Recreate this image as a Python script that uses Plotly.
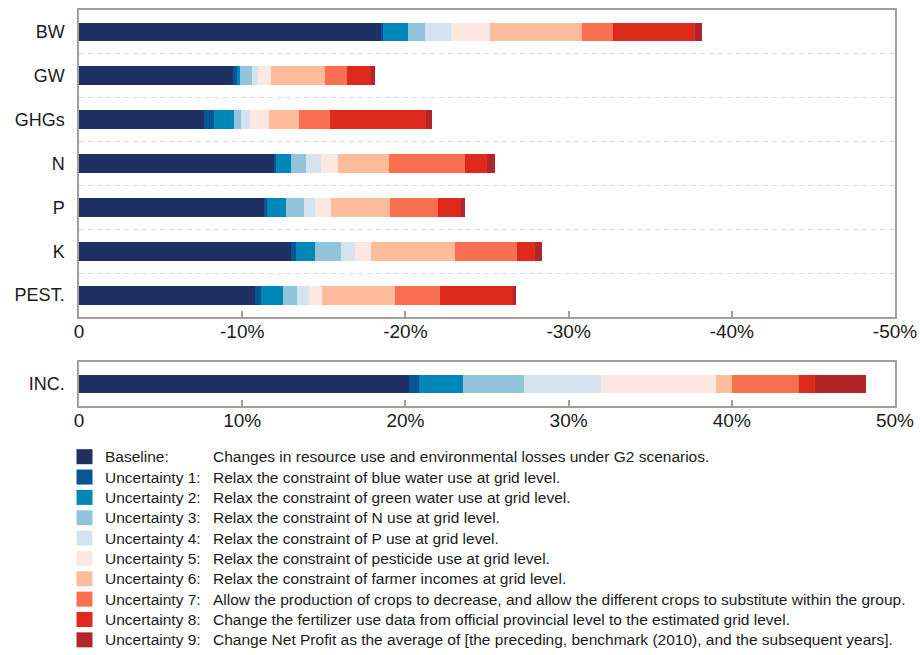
import plotly.graph_objects as go

# ---- data -------------------------------------------------------------
categories = ["BW", "GW", "GHGs", "N", "P", "K", "PEST."]
income_category = ["INC."]

series_names = ["Baseline:", "Uncertainty 1:", "Uncertainty 2:", "Uncertainty 3:",
                "Uncertainty 4:", "Uncertainty 5:", "Uncertainty 6:", "Uncertainty 7:",
                "Uncertainty 8:", "Uncertainty 9:"]
descriptions = [
    "Changes in resource use and environmental losses under G2 scenarios.",
    "Relax the constraint of blue water use at grid level.",
    "Relax the constraint of green water use at grid level.",
    "Relax the constraint of N use at grid level.",
    "Relax the constraint of P use at grid level.",
    "Relax the constraint of pesticide use at grid level.",
    "Relax the constraint of farmer incomes at grid level.",
    "Allow the production of crops to decrease, and allow the different crops to substitute within the group.",
    "Change the fertilizer use data from official provincial level to the estimated grid level.",
    "Change Net Profit as the average of [the preceding, benchmark (2010), and the subsequent years].",
]
colors = ["#1f3062", "#065594", "#0088b8", "#92c5dc", "#d4e3ef",
          "#fde8e1", "#febc9b", "#f87050", "#dd2a1c", "#b2252a"]

# reductions (percentage points) contributed by each segment, per category
baseline = [18.52, 9.44, 7.67, 11.95, 11.32, 12.96, 10.77]
unc1 = [0.10, 0.27, 0.59, 0.15, 0.20, 0.32, 0.37]
unc2 = [1.53, 0.14, 1.24, 0.86, 1.19, 1.21, 1.36]
unc3 = [1.03, 0.72, 0.45, 0.97, 1.06, 1.59, 0.86]
unc4 = [1.63, 0.40, 0.52, 0.92, 0.67, 0.86, 0.72]
unc5 = [2.40, 0.82, 1.16, 1.02, 1.02, 0.93, 0.81]
unc6 = [5.62, 3.31, 1.83, 3.10, 3.61, 5.18, 4.47]
unc7 = [1.87, 1.34, 1.90, 4.71, 2.90, 3.77, 2.79]
unc8 = [5.04, 1.47, 5.92, 1.31, 1.45, 1.15, 4.47]
unc9 = [0.41, 0.20, 0.37, 0.47, 0.26, 0.38, 0.17]
reductions = [baseline, unc1, unc2, unc3, unc4, unc5, unc6, unc7, unc8, unc9]

# income increase (percentage points) contributed by each segment
income = [20.22, 0.61, 2.72, 3.73, 4.68, 7.07, 0.96, 4.14, 0.96, 3.16]

top_tickvals = [0, -10, -20, -30, -40, -50]
top_ticktext = ["0", "-10%", "-20%", "-30%", "-40%", "-50%"]
bottom_tickvals = [0, 10, 20, 30, 40, 50]
bottom_ticktext = ["0", "10%", "20%", "30%", "40%", "50%"]

# ---- figure -----------------------------------------------------------
W, H = 920, 655
FONT = "Arial, Liberation Sans, sans-serif"
FRAME = "#a29e9a"
TEXT = "#1a1a1a"

fig = go.Figure()

for name, col, vals in zip(series_names, colors, reductions):
    fig.add_trace(go.Bar(
        y=categories, x=[-v for v in vals], orientation="h",
        name=name, marker=dict(color=col, line=dict(width=0)),
        width=0.43, xaxis="x", yaxis="y", showlegend=False))

for name, col, v in zip(series_names, colors, income):
    fig.add_trace(go.Bar(
        y=income_category, x=[v], orientation="h",
        name=name, marker=dict(color=col, line=dict(width=0)),
        width=0.43, xaxis="x2", yaxis="y2", showlegend=False))

x_dom = [79 / W, 895 / W]
axis_common = dict(showline=True, mirror=True, linecolor=FRAME, linewidth=1.5,
                   zeroline=False, showgrid=False, ticks="inside", ticklen=6,
                   tickcolor=FRAME, tickwidth=1.5, automargin=False,
                   ticklabelstandoff=-4,
                   tickfont=dict(family=FONT, size=19, color=TEXT))
ycat_common = dict(type="category", showline=True, mirror=True,
                   linecolor=FRAME, linewidth=1.5, zeroline=False,
                   ticks="", ticklabelstandoff=9, automargin=False,
                   tickfont=dict(family=FONT, size=18, color=TEXT))

fig.update_layout(
    template="none",
    width=W, height=H,
    margin=dict(l=0, r=0, t=0, b=0),
    paper_bgcolor="white", plot_bgcolor="white",
    barmode="relative", bargap=0,
    font=dict(family=FONT, color=TEXT),
    xaxis=dict(domain=x_dom, anchor="y", range=[0, -50],
               tickmode="array", tickvals=top_tickvals, ticktext=top_ticktext,
               **axis_common),
    yaxis=dict(domain=[1 - 317 / H, 1 - 10 / H], anchor="x",
               categoryorder="array", categoryarray=categories,
               range=[6.5, -0.5],
               showgrid=True, gridcolor="#d9d9d9", gridwidth=1,
               griddash="5px,4px", tickson="boundaries", **ycat_common),
    xaxis2=dict(domain=x_dom, anchor="y2", range=[0, 50],
                tickmode="array", tickvals=bottom_tickvals,
                ticktext=bottom_ticktext, **axis_common),
    yaxis2=dict(domain=[1 - 406 / H, 1 - 362 / H], anchor="x2",
                range=[-0.5, 0.5], showgrid=False, **ycat_common),
)

# ---- legend drawn as swatches plus two aligned text columns ------------
row0, row_step = 456.7, 20.35
for i, (name, desc, col) in enumerate(zip(series_names, descriptions, colors)):
    yc = row0 + i * row_step
    fig.add_shape(type="rect", xref="paper", yref="paper",
                  x0=76.5 / W, x1=92.5 / W,
                  y0=1 - (yc + 7.5) / H, y1=1 - (yc - 7.5) / H,
                  fillcolor=col, line=dict(width=0))
    fig.add_annotation(xref="paper", yref="paper", x=103 / W, y=1 - yc / H,
                       xanchor="left", yanchor="middle", showarrow=False,
                       text=name, font=dict(family=FONT, size=15.5, color=TEXT))
    fig.add_annotation(xref="paper", yref="paper", x=211 / W, y=1 - yc / H,
                       xanchor="left", yanchor="middle", showarrow=False,
                       text=desc, font=dict(family=FONT, size=15.5, color=TEXT))

fig.write_html("out.html")
